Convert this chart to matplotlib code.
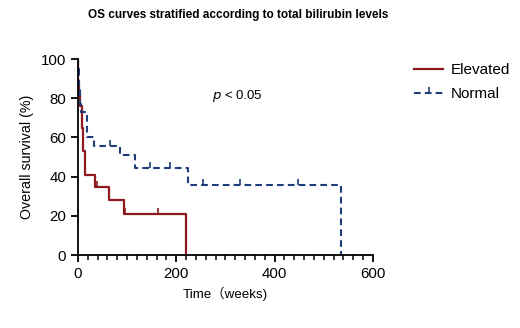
import numpy as np
import matplotlib
matplotlib.use('Agg')
from matplotlib import pyplot as plt

# Kaplan-Meier steps (weeks, % survival)
elev_t = [0, 1, 3, 5, 8, 11, 14, 35, 64, 93, 219]
elev_s = [100, 88, 82, 76, 65, 53, 41, 35, 28, 21, 0]
elev_cens_t = [39, 96, 162]
elev_cens_s = [35, 21, 21]

norm_t = [0, 1, 2, 4, 6, 18, 32, 86, 117, 224, 536]
norm_s = [100, 95, 86, 77, 73, 60, 55.5, 51, 44.5, 36, 0]
norm_cens_t = [66, 146, 187, 254, 329, 447]
norm_cens_s = [55.5, 44.5, 44.5, 36, 36, 36]

x_ticks = [0, 200, 400, 600]
y_ticks = [0, 20, 40, 60, 80, 100]

plt.rcParams['font.family'] = ['Liberation Sans', 'Noto Sans CJK SC', 'DejaVu Sans']

red = '#8e1a1e'
blue = '#1f3d7a'

fig = plt.figure(figsize=(5.2, 3.28), dpi=100)
ax = fig.add_axes([0.150, 0.222, 0.567, 0.598])

l1, = ax.step(elev_t, elev_s, where='post', color=red, lw=1.6)
ax.plot(elev_cens_t, elev_cens_s, ls='none', marker=2, ms=4, mew=1.2, color=red)

l2, = ax.step(norm_t, norm_s, where='post', color=blue, lw=1.5, ls=(0, (3.2, 2)))
c2, = ax.plot(norm_cens_t, norm_cens_s, ls='none', marker=2, ms=4, mew=1.2, color=blue)

ax.set_xlim(0, 600)
ax.set_ylim(0, 100)
ax.set_xticks(x_ticks)
ax.set_xticks(np.arange(0, 601, 20), minor=True)
ax.set_yticks(y_ticks)
ax.spines['top'].set_visible(False)
ax.spines['right'].set_visible(False)
for s in ['left', 'bottom']:
    ax.spines[s].set_linewidth(1.3)
ax.tick_params(axis='both', which='major', length=5, width=1.3, labelsize=10.8)
ax.tick_params(axis='x', which='minor', length=3.5, width=1.1)

ax.set_xlabel('Time（weeks)', fontsize=9.6, labelpad=4)
ax.set_ylabel('Overall survival (%)', fontsize=10.3, labelpad=5)

ax.text(325, 81, r'$\it{p}$ < 0.05', fontsize=9.5, ha='center', va='center')

fig.text(0.458, 0.955, 'OS curves stratified according to total bilirubin levels',
         fontsize=8.5, fontweight='bold', ha='center', va='center')

ax.legend([l1, (l2, c2)], ['Elevated', 'Normal'], loc='upper left',
          bbox_to_anchor=(0.77, 0.85), bbox_transform=fig.transFigure,
          frameon=False, fontsize=11, handlelength=1.9, handletextpad=0.5,
          labelspacing=0.65)

fig.savefig('out.png', dpi=100)
